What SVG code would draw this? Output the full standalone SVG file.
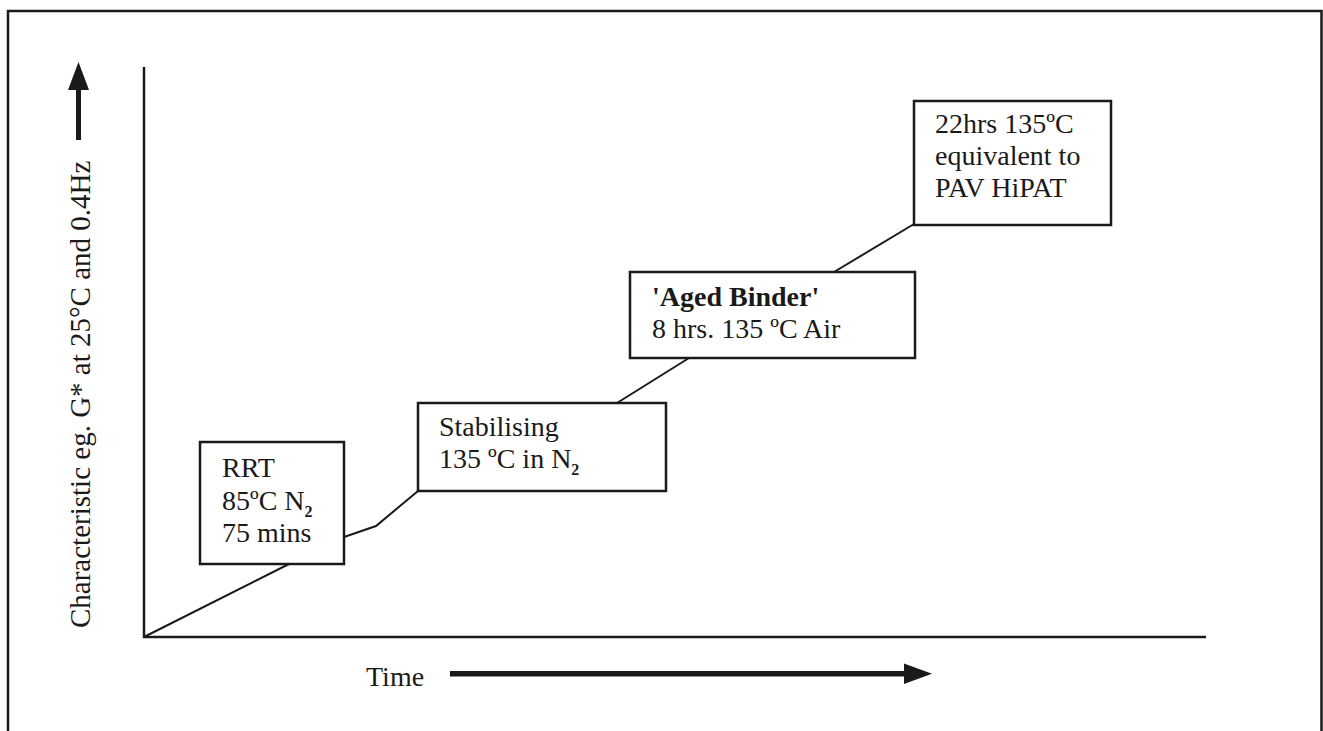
<svg xmlns="http://www.w3.org/2000/svg" width="1323" height="731" viewBox="0 0 1323 731">
<style>
.t{font-family:"Liberation Serif","Times New Roman",serif;font-size:28px;fill:#1a1a1a}
.b{font-weight:bold}
.sub{font-size:16px;font-weight:bold}
.box{fill:#fff;stroke:#1a1a1a;stroke-width:2.5}
.ln{fill:none;stroke:#1a1a1a;stroke-width:2}
.ax{fill:none;stroke:#1a1a1a;stroke-width:2.5}
</style>
<rect width="1323" height="731" fill="#fff"/>
<path d="M8,740 V11 H1321.5 V740" fill="none" stroke="#1a1a1a" stroke-width="2.5"/>
<g id="axes">
<path class="ax" d="M144,67 V637 H1206"/>
<text class="t" transform="translate(90,628) rotate(-90)" style="font-size:29px">Characteristic eg.  G* at 25°C and 0.4Hz</text>
<rect x="76" y="88" width="5" height="52" fill="#1a1a1a"/>
<polygon points="78.5,62 68,90 89,90" fill="#1a1a1a"/>
<text class="t" x="366" y="686">Time</text>
<rect x="450" y="671" width="456" height="5.5" fill="#1a1a1a"/>
<polygon points="904,663.5 932,673.75 904,684" fill="#1a1a1a"/>
</g>
<g id="connectors">
<polyline class="ln" points="144,637 289,564"/>
<polyline class="ln" points="344,537 376,526 418,491"/>
<polyline class="ln" points="617,403 689,358"/>
<polyline class="ln" points="834,272 914,224"/>
</g>
<g id="rrt">
<rect class="box" x="200" y="442" width="144" height="122"/>
<text class="t" x="222" y="477">RRT</text>
<text class="t" x="222" y="510">85ºC N<tspan class="sub" dy="7">2</tspan></text>
<text class="t" x="222" y="542">75 mins</text>
</g>
<g id="stabilising">
<rect class="box" x="418" y="403" width="248" height="88"/>
<text class="t" x="439" y="436">Stabilising</text>
<text class="t" x="439" y="468">135 ºC in N<tspan class="sub" dy="7">2</tspan></text>
</g>
<g id="aged">
<rect class="box" x="630" y="272" width="285" height="86"/>
<text class="t b" x="652" y="306">'Aged Binder'</text>
<text class="t" x="652" y="338">8 hrs. 135 ºC Air</text>
</g>
<g id="hipat">
<rect class="box" x="914" y="101" width="197" height="124"/>
<text class="t" x="935" y="133">22hrs 135ºC</text>
<text class="t" x="935" y="165">equivalent to</text>
<text class="t" x="935" y="197">PAV HiPAT</text>
</g>
</svg>
